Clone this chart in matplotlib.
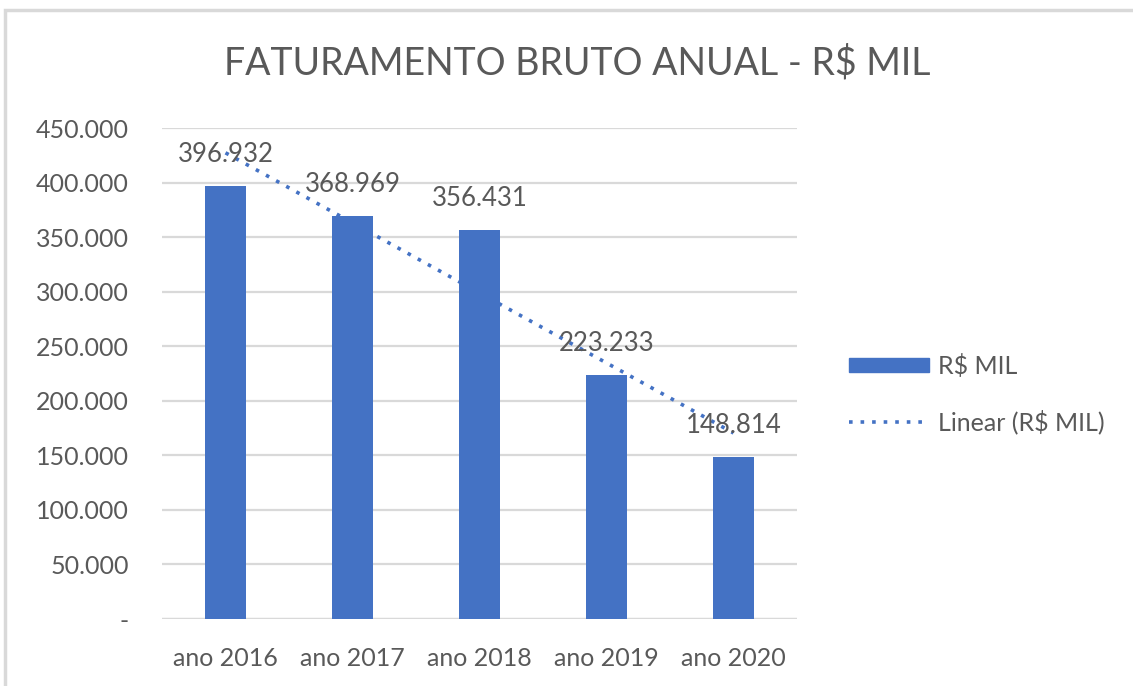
import matplotlib.pyplot as plt
import matplotlib.patches as mpatches
from matplotlib.lines import Line2D
from matplotlib.ticker import FuncFormatter, MultipleLocator
import numpy as np

categorias = ['ano 2016', 'ano 2017', 'ano 2018', 'ano 2019', 'ano 2020']
faturamento = [396932, 368969, 356431, 223233, 148814]
rotulos = ['396.932', '368.969', '356.431', '223.233', '148.814']

azul = '#4472C4'
cinza_texto = '#595959'
cinza_grade = '#D9D9D9'

plt.rcParams['font.family'] = ['Lato', 'DejaVu Sans']

fig = plt.figure(figsize=(11.33, 6.86), dpi=100)
ax = fig.add_axes([162 / 1133, 1 - 619 / 686, (797 - 162) / 1133, (619 - 128) / 686])

x = np.arange(len(categorias))
ax.bar(x, faturamento, width=0.315, color=azul, zorder=2)

# linha de tendencia (regressao linear, como no Excel)
coef = np.polyfit(x, faturamento, 1)
xt = np.array([x[0], x[-1]])
ax.plot(xt, np.polyval(coef, xt), linestyle=(0, (1, 2.2)), color=azul,
        linewidth=2.6, zorder=3)

for xi, v, txt in zip(x, faturamento, rotulos):
    ax.annotate(txt, (xi, v), xytext=(0, 19), textcoords='offset pixels',
                ha='center', va='bottom', fontsize=18.5, color=cinza_texto, zorder=4)

ax.set_xlim(-0.5, len(categorias) - 0.5)
ax.set_ylim(0, 450000)
ax.yaxis.set_major_locator(MultipleLocator(50000))


def fmt(v, pos):
    if v == 0:
        return '-'
    return f'{int(v):,}'.replace(',', '.')


ax.yaxis.set_major_formatter(FuncFormatter(fmt))
ax.set_xticks(x)
ax.set_xticklabels(categorias)
ax.tick_params(axis='both', length=0, labelsize=18, labelcolor=cinza_texto)
ax.tick_params(axis='x', pad=20)
ax.tick_params(axis='y', pad=24)
ax.grid(axis='y', color=cinza_grade, linewidth=1.6, zorder=0)
for s in ax.spines.values():
    s.set_visible(False)
ax.axhline(0, color=cinza_grade, linewidth=1.6, zorder=1)

fig.text(577 / 1133, 1 - 63 / 686, 'FATURAMENTO BRUTO ANUAL - R$ MIL',
         ha='center', va='center', fontsize=27, color=cinza_texto)

handles = [mpatches.Patch(color=azul, label='R$ MIL'),
           Line2D([], [], color=azul, linestyle=(0, (1, 2.2)), linewidth=2.6,
                  label='Linear (R$ MIL)')]
leg = fig.legend(handles=handles, loc='center left',
                 bbox_to_anchor=(826 / 1133, 1 - 394 / 686), frameon=False,
                 fontsize=18, labelcolor=cinza_texto, handlelength=3.2,
                 handleheight=0.5, labelspacing=1.25, handletextpad=0.4)

# moldura do grafico
fig.add_artist(mpatches.Rectangle((5 / 1133, -0.05), 1.1, 1 - 10 / 686 + 0.05,
                                  transform=fig.transFigure, fill=False,
                                  edgecolor='#D9D9D9', linewidth=2.5))

fig.savefig('out.png', dpi=100)
